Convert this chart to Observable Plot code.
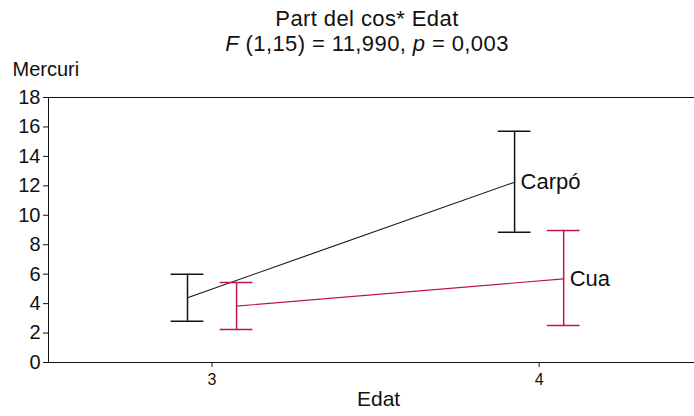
<!DOCTYPE html>
<html><head><meta charset="utf-8">
<script src="https://cdn.jsdelivr.net/npm/d3@7"></script>
<script src="https://cdn.jsdelivr.net/npm/@observablehq/plot@0.6"></script>
<style>
body{margin:0;background:#fff;font-family:"Liberation Sans",Arial,sans-serif;}
#wrap{position:relative;width:694px;height:416px;}
.t{position:absolute;left:367px;transform:translateX(-50%);white-space:nowrap;font-size:22px;line-height:22px;letter-spacing:0.4px;color:#111;}
</style></head><body>
<div id="wrap">
<div id="chart" style="position:absolute;left:0;top:0"></div>
<div class="t" style="top:8px">Part del cos* Edat</div>
<div class="t" style="top:33px"><i>F</i> (1,15) = 11,990, <i>p</i> = 0,003</div>
</div>
<script>
const groups = ["Carpó", "Cua"];
const ages = [3, 4];
const offsets = [-0.075, 0.075];
const means = [[4.4, 12.25], [3.83, 5.68]];
const lows = [[2.8, 8.85], [2.24, 2.51]];
const highs = [[6.0, 15.71], [5.43, 8.97]];
const colors = ["#111111", "#c0144f"];
const yTicks = [0, 2, 4, 6, 8, 10, 12, 14, 16, 18];
const capHalf = 0.05;

const rows = [];
groups.forEach((g, i) => ages.forEach((a, j) => rows.push({
  group: g, age: a, x: a + offsets[i], mean: means[i][j], lo: lows[i][j], hi: highs[i][j], color: colors[i], last: j === ages.length - 1
})));
const caps = rows.flatMap(r => [{...r, y: r.lo}, {...r, y: r.hi}]);

const chart = Plot.plot({
  width: 694, height: 416,
  marginLeft: 48, marginRight: 0, marginTop: 97, marginBottom: 54,
  style: {fontFamily: "Liberation Sans, Arial, sans-serif", color: "#111"},
  x: {domain: [2.5, 4.475], label: null},
  y: {domain: [0, 18], label: null},
  marks: [
    Plot.ruleY([0, 18], {stroke: "#111", strokeWidth: 1}),
    Plot.ruleX([2.5], {stroke: "#111", strokeWidth: 1}),
    Plot.axisY({ticks: yTicks, tickSize: 5, tickPadding: 3, fontSize: 20, label: null, tickFormat: d => String(d)}),
    Plot.axisX({ticks: ages, tickSize: 5, tickPadding: 6, fontSize: 16, label: null, tickFormat: d => String(d)}),
    Plot.text(["Mercuri"], {frameAnchor: "top-left", dx: -36, dy: -36, fontSize: 20, textAnchor: "start", fill: "#111"}),
    Plot.text(["Edat"], {x: 3.5, frameAnchor: "bottom", dy: 43, dx: 3, fontSize: 21, fill: "#111"}),
    Plot.line(rows, {x: "x", y: "mean", z: "group", stroke: "color", strokeWidth: 1.1}),
    Plot.ruleX(rows, {x: "x", y1: "lo", y2: "hi", stroke: "color", strokeWidth: 1.5}),
    Plot.ruleY(caps, {y: "y", x1: d => d.x - capHalf, x2: d => d.x + capHalf, stroke: "color", strokeWidth: 1.5}),
    Plot.text(rows.filter(r => r.last), {x: "x", y: "mean", text: "group", textAnchor: "start", dx: 6, fontSize: 22, fill: "#111"})
  ]
});
document.getElementById("chart").appendChild(chart);
</script>
</body></html>
